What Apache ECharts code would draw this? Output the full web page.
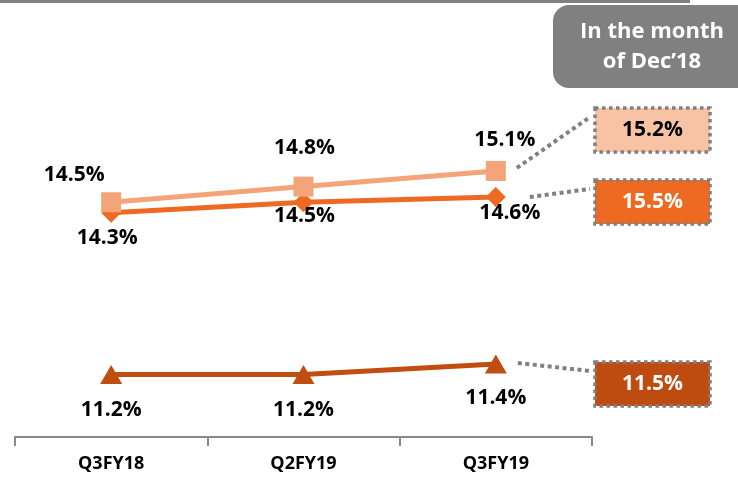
<!DOCTYPE html>
<html>
<head>
<meta charset="utf-8">
<script src="https://cdn.jsdelivr.net/npm/echarts@6/dist/echarts.min.js"></script>
<style>
  html, body { margin: 0; padding: 0; background: #fff; }
  #chart { width: 738px; height: 478px; }
</style>
</head>
<body>
<div id="chart"></div>
<script>
// Quarterly rates (%) for three segments, plus the December 2018 month figures
const categories = ['Q3FY18', 'Q2FY19', 'Q3FY19'];
const lightSeries = [14.5, 14.8, 15.1];
const midSeries = [14.3, 14.5, 14.6];
const darkSeries = [11.2, 11.2, 11.4];
const decValues = [15.2, 15.5, 11.5];
const decTitle = ['In the month', 'of Dec\u201918'];

const COLORS = { light: '#F4A479', mid: '#EE6A22', dark: '#BF4E10' };
const BOX_FILLS = ['#F8C3A4', '#EE6A22', '#BE4B10'];
const BOX_TEXT = ['#000', '#fff', '#fff'];
const FONT = '"Open Sans", Lato, sans-serif';

// label offsets from each point centre
const lightOffsets = [[-37, -27], [1, -39], [9, -31]];
const midOffsets = [[-4, 25], [1, 14], [14, 16]];
const darkOffsets = [[0, 36], [0, 36], [0, 34]];

function labelled(values, offsets) {
  return values.map((v, i) => ({
    value: v,
    label: { offset: offsets[i] }
  }));
}

const baseLabel = {
  show: true,
  position: 'inside',
  formatter: p => p.value.toFixed(1) + '%',
  color: '#000',
  fontFamily: FONT,
  fontWeight: 'bold',
  fontSize: 21
};

const chart = echarts.init(document.getElementById('chart'));

chart.setOption({
  animation: false,
  grid: { left: 15, right: 146, top: 124, bottom: 41, containLabel: false },
  xAxis: {
    type: 'category',
    data: categories,
    boundaryGap: true,
    axisLine: { lineStyle: { color: '#898989', width: 2 } },
    axisTick: { show: true, length: 9, lineStyle: { color: '#898989', width: 2 } },
    axisLabel: {
      margin: 18,
      color: '#000',
      fontFamily: FONT,
      fontWeight: 'bold',
      fontSize: 18
    }
  },
  yAxis: {
    type: 'value',
    min: 10,
    max: 16,
    show: false,
    splitLine: { show: false }
  },
  series: [
    {
      name: 'light',
      type: 'line',
      data: labelled(lightSeries, lightOffsets),
      symbol: 'rect',
      symbolSize: 20,
      lineStyle: { color: COLORS.light, width: 5 },
      itemStyle: { color: COLORS.light },
      label: baseLabel,
      z: 3
    },
    {
      name: 'mid',
      type: 'line',
      data: labelled(midSeries, midOffsets),
      symbol: 'diamond',
      symbolSize: [20, 20],
      lineStyle: { color: COLORS.mid, width: 5 },
      itemStyle: { color: COLORS.mid },
      label: baseLabel,
      z: 2
    },
    {
      name: 'dark',
      type: 'line',
      data: labelled(darkSeries, darkOffsets),
      symbol: 'triangle',
      symbolSize: [22, 19],
      lineStyle: { color: COLORS.dark, width: 5 },
      itemStyle: { color: COLORS.dark },
      label: baseLabel,
      z: 2
    }
  ]
});

// Callout boxes for the December figures, linked to the last point of each line
const last = categories.length - 1;
const lastPts = [lightSeries[last], midSeries[last], darkSeries[last]].map(v =>
  chart.convertToPixel({ gridIndex: 0 }, [last, v])
);
const boxTops = [108, 180, 362];
const boxX = 595, boxW = 115, boxH = 44;
const linkStarts = [[21, -3], [34, 0], [22, -1]];
const linkEndY = [117, 189, 371];

const graphics = [
  { type: 'rect', shape: { x: 0, y: 0, width: 690, height: 3 }, style: { fill: '#808080' } },
  {
    type: 'rect',
    shape: { x: 553, y: 5, width: 200, height: 83, r: [16, 0, 0, 16] },
    style: { fill: '#808080' }
  },
  {
    type: 'text',
    x: 652, y: 47,
    style: {
      text: decTitle.join('\n'),
      fill: '#fff',
      font: 'bold 22px ' + FONT,
      align: 'center',
      verticalAlign: 'middle',
      lineHeight: 30
    }
  }
];

decValues.forEach((v, i) => {
  const p = lastPts[i];
  graphics.push({
    type: 'line',
    shape: { x1: p[0] + linkStarts[i][0], y1: p[1] + linkStarts[i][1], x2: boxX - 5, y2: linkEndY[i] },
    style: { stroke: '#808080', lineWidth: 4, lineDash: [4, 3.5] },
    z: 1
  });
  graphics.push({
    type: 'rect',
    shape: { x: boxX, y: boxTops[i], width: boxW, height: boxH },
    style: { fill: BOX_FILLS[i], stroke: '#808080', lineWidth: 3.5, lineDash: [3.5, 3.5] },
    z: 2
  });
  graphics.push({
    type: 'text',
    x: boxX + boxW / 2, y: boxTops[i] + boxH / 2,
    style: {
      text: v.toFixed(1) + '%',
      fill: BOX_TEXT[i],
      font: 'bold 21px ' + FONT,
      align: 'center',
      verticalAlign: 'middle'
    },
    z: 3
  });
});

chart.setOption({ graphic: graphics });
</script>
</body>
</html>
